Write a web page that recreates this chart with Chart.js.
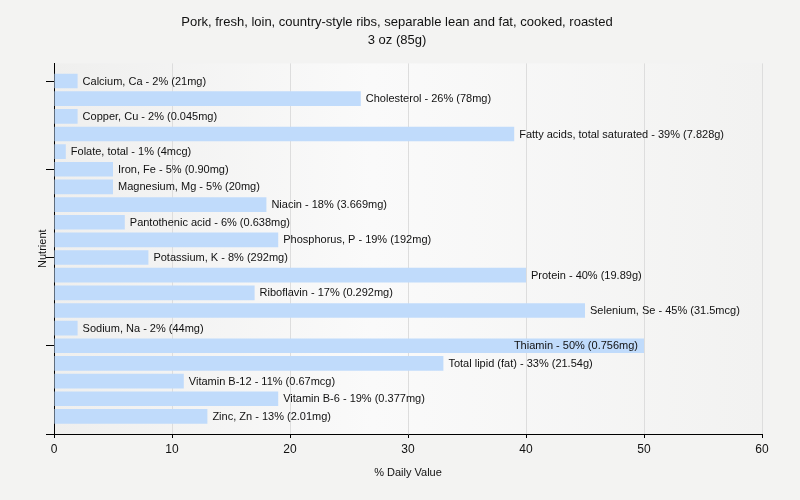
<!DOCTYPE html>
<html>
<head>
<meta charset="utf-8">
<script src="https://cdn.jsdelivr.net/npm/chart.js@4/dist/chart.umd.min.js"></script>
<style>
html,body{margin:0;padding:0;background:#f3f3f2;}
#wrap{width:800px;height:500px;}
</style>
</head>
<body>
<div id="wrap"><canvas id="c" width="800" height="500"></canvas></div>
<script>
const nutrients = ["Calcium, Ca","Cholesterol","Copper, Cu","Fatty acids, total saturated","Folate, total","Iron, Fe","Magnesium, Mg","Niacin","Pantothenic acid","Phosphorus, P","Potassium, K","Protein","Riboflavin","Selenium, Se","Sodium, Na","Thiamin","Total lipid (fat)","Vitamin B-12","Vitamin B-6","Zinc, Zn"];
const dailyValues = [2,26,2,39,1,5,5,18,6,19,8,40,17,45,2,50,33,11,19,13];
const amounts = ["21mg","78mg","0.045mg","7.828g","4mcg","0.90mg","20mg","3.669mg","0.638mg","192mg","292mg","19.89g","0.292mg","31.5mcg","44mg","0.756mg","21.54g","0.67mcg","0.377mg","2.01mg"];
const xTicks = [0,10,20,30,40,50,60];
const yTickMarks = [0,5,10,15,20];
const titleLines = ["Pork, fresh, loin, country-style ribs, separable lean and fat, cooked, roasted","3 oz (85g)"];

const LFONT = "'Liberation Sans', Arial, sans-serif";

const bgPlugin = {
  id:'bg',
  beforeDraw(chart){
    const {ctx, chartArea:a} = chart;
    const g = ctx.createLinearGradient(a.left,0,a.right,0);
    g.addColorStop(0,'#efefee');
    g.addColorStop(0.45,'#fafafa');
    g.addColorStop(1,'#f2f2f1');
    ctx.save();
    ctx.fillStyle = g;
    ctx.fillRect(a.left,a.top,a.right-a.left,a.bottom-a.top);
    ctx.restore();
  }
};

const labelPlugin = {
  id:'barLabels',
  afterDatasetsDraw(chart){
    const {ctx, chartArea} = chart;
    const meta = chart.getDatasetMeta(0);
    ctx.save();
    ctx.font = "11px " + LFONT;
    ctx.fillStyle = '#111111';
    ctx.textBaseline = 'middle';
    meta.data.forEach((bar,i)=>{
      const txt = nutrients[i] + ' - ' + dailyValues[i] + '% (' + amounts[i] + ')';
      const w = ctx.measureText(txt).width;
      if (bar.x + 5 + w > chartArea.right) {
        ctx.textAlign = 'right';
        ctx.fillText(txt, bar.x - 6, bar.y + 0.5);
      } else {
        ctx.textAlign = 'left';
        ctx.fillText(txt, bar.x + 5, bar.y + 0.5);
      }
    });
    ctx.restore();
  }
};

new Chart(document.getElementById('c'), {
  type:'bar',
  data:{
    datasets:[{
      data: dailyValues.map((v,i)=>({x:v, y:i})),
      backgroundColor:'#c0dbfb',
      borderWidth:0,
      barPercentage:1,
      categoryPercentage:0.83
    }]
  },
  plugins:[bgPlugin,labelPlugin],
  options:{
    indexAxis:'y',
    responsive:false,
    animation:false,
    layout:{padding:{left:32,right:38,top:0,bottom:16}},
    plugins:{
      legend:{display:false},
      tooltip:{enabled:false},
      title:{
        display:true,
        text:titleLines,
        color:'#111111',
        font:{family:LFONT,size:13,weight:'normal',lineHeight:1.4},
        padding:{top:13,bottom:14}
      }
    },
    scales:{
      x:{
        type:'linear',
        min:0,max:60,
        offset:false,
        afterBuildTicks(s){ s.ticks = xTicks.map(v=>({value:v})); },
        grid:{color:'#dddddd',tickLength:4,tickColor:'#000',offset:false},
        border:{color:'#000',width:1},
        ticks:{color:'#111111',font:{family:LFONT,size:12},padding:4,maxRotation:0},
        title:{display:true,text:'% Daily Value',color:'#111111',font:{family:LFONT,size:11},padding:{top:0,bottom:4}},
        afterFit(s){ s.height = 50; }
      },
      y:{
        type:'linear',
        min:-1,max:20,
        reverse:true,
        offset:false,
        afterBuildTicks(s){ s.ticks = yTickMarks.map(v=>({value:v})); },
        grid:{drawOnChartArea:false,tickLength:8,tickColor:'#000',offset:false},
        border:{color:'#000',width:1},
        ticks:{callback:()=>'',padding:0},
        title:{display:true,text:'Nutrient',color:'#111111',font:{family:LFONT,size:11},padding:{top:4,bottom:0}},
        afterFit(s){ s.width = 22; }
      }
    }
  }
});
</script>
</body>
</html>
